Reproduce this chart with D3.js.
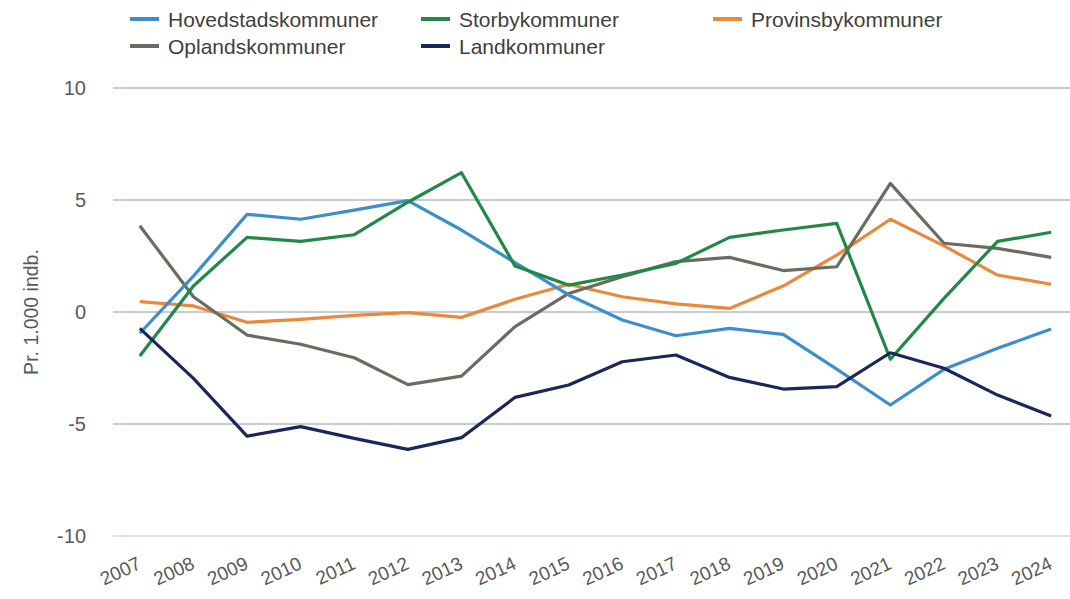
<!DOCTYPE html>
<html>
<head>
<meta charset="utf-8">
<script src="https://cdn.jsdelivr.net/npm/d3@7"></script>
<style>
  body { margin: 0; background: #fff; }
  svg { display: block; font-family: "Liberation Sans", Arial, sans-serif; }
</style>
</head>
<body>
<svg id="chart"></svg>
<script>
const years = ['2007','2008','2009','2010','2011','2012','2013','2014','2015','2016','2017','2018','2019','2020','2021','2022','2023','2024'];
const seriesNames = ['Hovedstadskommuner','Storbykommuner','Provinsbykommuner','Oplandskommuner','Landkommuner'];
const hovedstad = [-0.95, 1.6, 4.36, 4.14, 4.55, 4.97, 3.66, 2.2, 0.76, -0.36, -1.06, -0.73, -1.0, -2.55, -4.15, -2.56, -1.62, -0.76];
const storby    = [-1.96, 1.16, 3.33, 3.15, 3.45, 4.9, 6.22, 2.05, 1.2, 1.65, 2.17, 3.33, 3.66, 3.96, -2.11, 0.61, 3.15, 3.56];
const provinsby = [0.46, 0.27, -0.46, -0.33, -0.15, -0.03, -0.24, 0.57, 1.24, 0.68, 0.36, 0.16, 1.16, 2.54, 4.14, 2.95, 1.65, 1.24];
const oplands   = [3.85, 0.68, -1.03, -1.44, -2.04, -3.24, -2.86, -0.65, 0.83, 1.58, 2.25, 2.44, 1.85, 2.02, 5.74, 3.07, 2.84, 2.44];
const land      = [-0.73, -2.96, -5.54, -5.12, -5.64, -6.13, -5.61, -3.81, -3.26, -2.22, -1.92, -2.92, -3.44, -3.33, -1.82, -2.51, -3.71, -4.64];
const yTicks = [-10, -5, 0, 5, 10];
const colors = ['#3d8fcc', '#228848', '#e8893c', '#6b6c60', '#1b2659'];

const W = 1070, H = 599;
const svg = d3.select('#chart').attr('width', W).attr('height', H);

const x = d3.scalePoint().domain(years).range([113, 1078]).padding(0.5);
const y = d3.scaleLinear().domain([-10, 10]).range([536, 88]);

// gridlines
svg.append('g')
  .selectAll('line')
  .data(yTicks)
  .join('line')
  .attr('x1', 113).attr('x2', W)
  .attr('y1', d => y(d)).attr('y2', d => y(d))
  .attr('stroke', d => d === -10 ? '#d3d9e4' : '#b3bcc0')
  .attr('stroke-width', 1.5);

// y axis
const yAxis = svg.append('g')
  .attr('transform', 'translate(86,0)')
  .call(d3.axisLeft(y).tickValues(yTicks).tickFormat(d => String(d)).tickSize(0).tickPadding(0));
yAxis.select('.domain').remove();
yAxis.selectAll('text')
  .attr('font-size', 20).attr('fill', '#595959')
  .attr('font-family', '"Liberation Sans", Arial, sans-serif');

// x axis
const xAxis = svg.append('g')
  .attr('transform', 'translate(0,536)')
  .call(d3.axisBottom(x).tickSize(0).tickPadding(0));
xAxis.select('.domain').remove();
xAxis.selectAll('text')
  .attr('font-size', 19).attr('fill', '#595959')
  .attr('font-family', '"Liberation Sans", Arial, sans-serif')
  .attr('text-anchor', 'end')
  .attr('y', 0)
  .attr('dy', 0)
  .attr('transform', 'translate(2,32) rotate(-25)');

// y label
svg.append('text')
  .attr('transform', `translate(38,${y(0)}) rotate(-90)`)
  .attr('text-anchor', 'middle')
  .attr('font-size', 19.5).attr('fill', '#595959')
  .text('Pr. 1.000 indb.');

// lines
const allSeries = [hovedstad, storby, provinsby, oplands, land];
const line = d3.line().x((d, i) => x(years[i])).y(d => y(d));
const drawOrder = [2, 3, 0, 1, 4];
svg.append('g')
  .selectAll('path')
  .data(drawOrder)
  .join('path')
  .attr('d', i => line(allSeries[i]))
  .attr('fill', 'none')
  .attr('stroke', i => colors[i])
  .attr('stroke-width', 3.2)
  .attr('stroke-linejoin', 'round');

// legend
const legendPos = [[130, 19], [421, 19], [713, 19], [130, 46], [421, 46]];
const legend = svg.append('g')
  .selectAll('g')
  .data(seriesNames)
  .join('g')
  .attr('transform', (d, i) => `translate(${legendPos[i][0]},${legendPos[i][1]})`);
legend.append('line')
  .attr('x1', 0).attr('x2', 29).attr('y1', 0).attr('y2', 0)
  .attr('stroke', (d, i) => colors[i]).attr('stroke-width', 4);
legend.append('text')
  .attr('x', 38).attr('y', 8)
  .attr('font-size', 21).attr('fill', '#404040')
  .text(d => d);
</script>
</body>
</html>
